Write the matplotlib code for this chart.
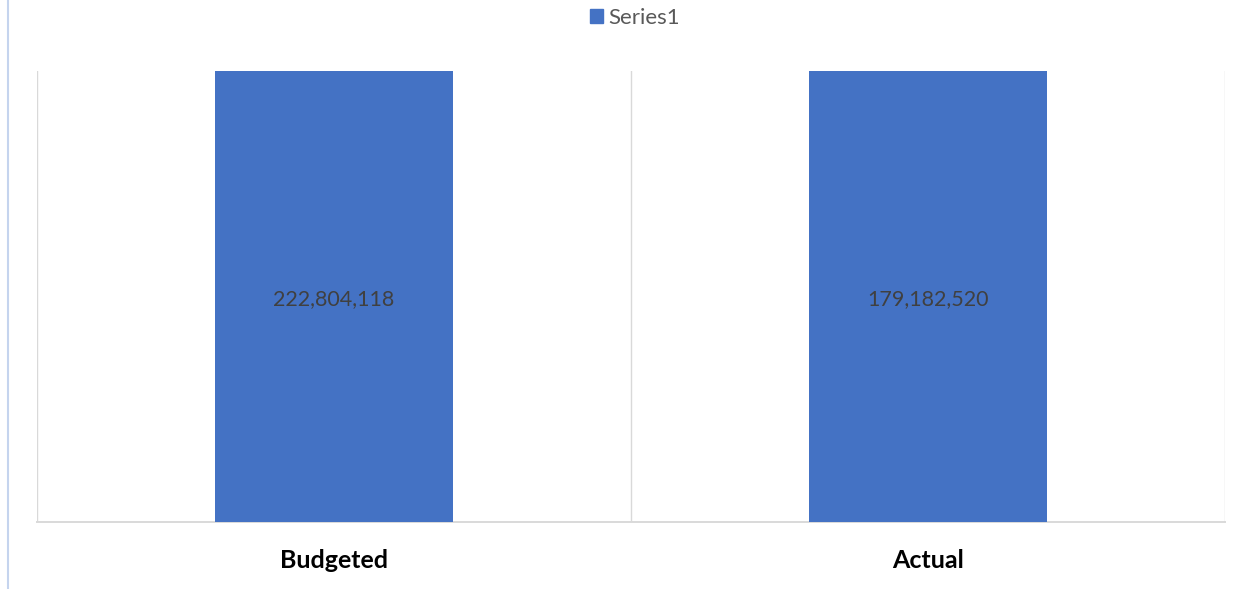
import matplotlib
matplotlib.use("Agg")
import matplotlib.pyplot as plt
from matplotlib.lines import Line2D
from matplotlib.patches import Patch

categories = ["Budgeted", "Actual"]
values = [222804118, 179182520]
series_name = "Series1"

BAR = "#4472c4"
GRID = "#d9d9d9"

plt.rcParams["font.family"] = ["Lato", "DejaVu Sans"]

W, H = 1253, 589
fig = plt.figure(figsize=(W / 100, H / 100), dpi=100)
ax = fig.add_axes([37 / W, 1 - 522 / H, (1225 - 37) / W, (522 - 71) / H])

x = list(range(len(categories)))
ax.bar(x, values, width=0.4, color=BAR, zorder=3)
ax.set_xlim(-0.5, len(categories) - 0.5)
ax.set_ylim(0, 160e6)  # bars run past the top of the plot area

# category boundary gridlines
for b in [-0.5, 0.5, 1.5]:
    ax.axvline(b, color=GRID, lw=1.0, zorder=1)

for s in ["top", "right", "left"]:
    ax.spines[s].set_visible(False)
ax.spines["bottom"].set_color(GRID)
ax.spines["bottom"].set_linewidth(1.4)
ax.set_yticks([])
ax.set_xticks(x)
ax.set_xticklabels(categories, fontsize=18, fontweight="bold", color="black")
ax.tick_params(axis="x", length=0, pad=19.5)

# data labels, centred on the visible part of each bar
for xi, v in zip(x, values):
    ax.text(xi, 0.495, f"{v:,}", transform=ax.get_xaxis_transform(),
            ha="center", va="center", fontsize=15.5, color="#404040", zorder=4)

fig.legend(handles=[Patch(color=BAR, label=series_name)], loc="center",
           bbox_to_anchor=(635 / W, 1 - 18 / H), frameon=False, fontsize=16,
           handlelength=0.55, handleheight=0.55, handletextpad=0.25,
           labelcolor="#595959")

# thin frame edge on the far left
fig.add_artist(Line2D([7.5 / W, 7.5 / W], [0, 1], color="#c5d4ee", lw=1.5,
                      transform=fig.transFigure))

fig.savefig("out.png", dpi=100)
